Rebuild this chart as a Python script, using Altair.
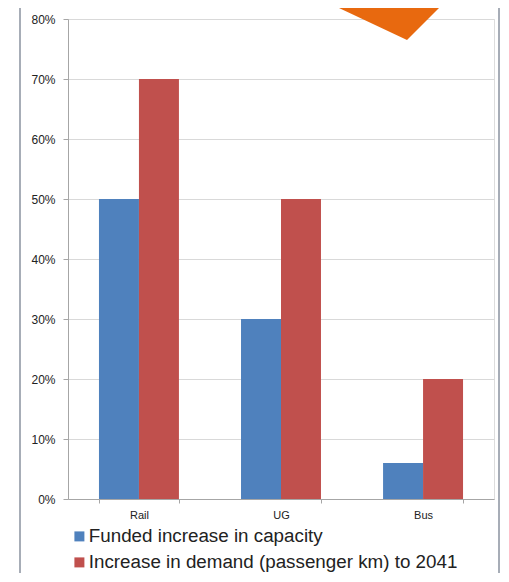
import altair as alt
import pandas as pd

categories = ["Rail", "UG", "Bus"]
series_names = ["Funded increase in capacity", "Increase in demand (passenger km) to 2041"]
funded = [0.50, 0.30, 0.06]
demand = [0.70, 0.50, 0.20]
y_ticks = [0, 0.1, 0.2, 0.3, 0.4, 0.5, 0.6, 0.7, 0.8]
colors = ["#4F81BD", "#C0504D"]

rows = []
for c, f, d in zip(categories, funded, demand):
    rows.append({"mode": c, "series": series_names[0], "value": f})
    rows.append({"mode": c, "series": series_names[1], "value": d})
df = pd.DataFrame(rows)

font = "Liberation Sans"

bars = alt.Chart(df).mark_bar().encode(
    x=alt.X("mode:N", sort=categories,
            scale=alt.Scale(paddingInner=0.437, paddingOuter=0.218),
            axis=alt.Axis(title=None, labelAngle=0, tickBand="extent", tickSize=4,
                          tickColor="#a6a6a6", domainColor="#a6a6a6",
                          labelFontSize=11, labelPadding=6, labelColor="#222",
                          labelFont=font, grid=False)),
    xOffset=alt.XOffset("series:N", sort=series_names),
    y=alt.Y("value:Q", scale=alt.Scale(domain=[0, 0.8]),
            axis=alt.Axis(title=None, format=".0%", values=y_ticks, tickSize=5,
                          tickColor="#a6a6a6", domainColor="#a6a6a6",
                          gridColor="#d9d9d9", labelFontSize=12, labelPadding=8,
                          labelColor="#222", labelFont=font)),
    color=alt.Color("series:N", sort=series_names,
                    scale=alt.Scale(domain=series_names, range=colors),
                    legend=alt.Legend(title=None, orient="none", legendX=2, legendY=508,
                                      symbolType="square", symbolSize=100,
                                      labelFontSize=18.8, labelFont=font, labelColor="#222",
                                      labelLimit=0, labelOffset=0, rowPadding=6,
                                      symbolStrokeWidth=0)),
)

one = pd.DataFrame({"k": [0]})
frame = alt.Chart(one).mark_rect(filled=False, stroke="#8a93a0", strokeWidth=1.5).encode(
    x=alt.value(-48), x2=alt.value(431), y=alt.value(-14), y2=alt.value(620)
)

tri_path = "M-1,-0.32L1,-0.32L0.36,0.32Z"
orange = alt.Chart(one).mark_point(shape=tri_path, filled=True, fill="#E8690F",
                                   opacity=1, size=15625, strokeWidth=0).encode(
    x=alt.value(316.5), y=alt.value(1)
)

chart = alt.layer(frame, bars, orange).properties(
    width=426, height=480,
    autosize=alt.AutoSizeParams(type="none"),
    padding={"left": 60, "top": 11, "right": 6, "bottom": 74},
).configure_view(stroke=None).configure(background="white")

chart.save("out.html", embed_options={"renderer": "svg", "actions": False})
